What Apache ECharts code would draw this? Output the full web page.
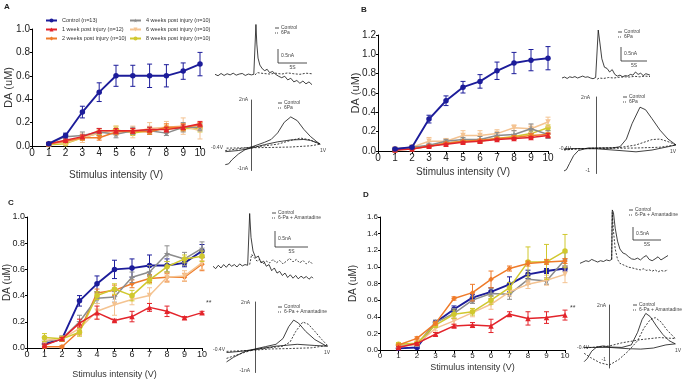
<!DOCTYPE html>
<html>
<head>
<meta charset="utf-8">
<script src="https://cdn.jsdelivr.net/npm/echarts@6/dist/echarts.min.js"></script>
<style>
  html, body { margin: 0; padding: 0; background: #fff; }
  #main { width: 686px; height: 384px; }
</style>
</head>
<body>
<div id="main"></div>
<script>
var chartDom = document.getElementById('main');
var myChart = echarts.init(chartDom);
var option;

// x categories and groups
const stimulus = [1, 2, 3, 4, 5, 6, 7, 8, 9, 10];
const groups = ['Control (n=13)', '1 week post injury (n=12)', '2 weeks post injury (n=10)',
  '4 weeks post injury (n=10)', '6 weeks post injury (n=10)', '8 weeks post injury (n=10)'];
const colors = ['#1c1c9a', '#e3242b', '#ef7b2a', '#8c8c8c', '#f4c391', '#d0c82e'];
const starIcon = 'path://M50,0 L61,35 L98,35 L68,57 L79,91 L50,70 L21,91 L32,57 L2,35 L39,35 Z';
const symbols = ['circle', 'triangle', 'diamond', starIcon, 'triangle', 'circle'];

// Panel A: mean / SEM, rows in group order
const meanA = [
  [0.02, 0.09, 0.29, 0.46, 0.60, 0.60, 0.60, 0.60, 0.64, 0.70],
  [0.02, 0.05, 0.08, 0.13, 0.13, 0.13, 0.14, 0.14, 0.16, 0.19],
  [0.02, 0.04, 0.07, 0.07, 0.12, 0.13, 0.12, 0.16, 0.16, 0.18],
  [0.02, 0.08, 0.09, 0.12, 0.10, 0.13, 0.13, 0.11, 0.16, 0.16],
  [0.02, 0.03, 0.07, 0.11, 0.13, 0.12, 0.15, 0.16, 0.17, 0.13],
  [0.01, 0.02, 0.07, 0.11, 0.14, 0.11, 0.13, 0.15, 0.15, 0.15]
];
const errA = [
  [0.01, 0.02, 0.05, 0.08, 0.09, 0.09, 0.10, 0.095, 0.07, 0.10],
  [0.01, 0.01, 0.015, 0.02, 0.02, 0.02, 0.02, 0.02, 0.02, 0.02],
  [0.01, 0.01, 0.02, 0.02, 0.02, 0.02, 0.02, 0.03, 0.03, 0.02],
  [0.01, 0.02, 0.03, 0.03, 0.03, 0.03, 0.03, 0.02, 0.04, 0.03],
  [0.01, 0.02, 0.04, 0.03, 0.04, 0.05, 0.05, 0.05, 0.07, 0.07],
  [0.01, 0.01, 0.02, 0.02, 0.03, 0.02, 0.02, 0.02, 0.02, 0.03]
];

// Panel B
const meanB = [
  [0.02, 0.04, 0.33, 0.52, 0.66, 0.72, 0.83, 0.91, 0.94, 0.96],
  [0.01, 0.02, 0.05, 0.07, 0.09, 0.10, 0.12, 0.13, 0.14, 0.16],
  [0.01, 0.02, 0.05, 0.08, 0.10, 0.11, 0.13, 0.14, 0.16, 0.17],
  [0.02, 0.04, 0.06, 0.10, 0.12, 0.12, 0.16, 0.17, 0.23, 0.17],
  [0.02, 0.04, 0.10, 0.10, 0.16, 0.16, 0.18, 0.24, 0.23, 0.30],
  [0.01, 0.03, 0.05, 0.08, 0.10, 0.10, 0.13, 0.15, 0.18, 0.24]
];
const errB = [
  [0.01, 0.01, 0.04, 0.05, 0.06, 0.07, 0.09, 0.11, 0.11, 0.12],
  [0.005, 0.005, 0.01, 0.01, 0.01, 0.01, 0.01, 0.01, 0.01, 0.02],
  [0.005, 0.01, 0.01, 0.01, 0.01, 0.01, 0.01, 0.02, 0.02, 0.02],
  [0.01, 0.01, 0.02, 0.02, 0.02, 0.03, 0.03, 0.04, 0.05, 0.04],
  [0.01, 0.02, 0.04, 0.03, 0.05, 0.05, 0.04, 0.03, 0.04, 0.05],
  [0.005, 0.01, 0.01, 0.01, 0.02, 0.02, 0.02, 0.02, 0.03, 0.03]
];

// Panel C
const meanC = [
  [0.03, 0.07, 0.36, 0.49, 0.60, 0.61, 0.63, 0.63, 0.65, 0.74],
  [0.02, 0.07, 0.19, 0.27, 0.21, 0.24, 0.31, 0.28, 0.23, 0.27],
  [0.01, 0.01, 0.13, 0.42, 0.44, 0.49, 0.53, 0.54, 0.54, 0.64],
  [0.05, 0.07, 0.20, 0.38, 0.39, 0.54, 0.58, 0.72, 0.68, 0.76],
  [0.06, 0.07, 0.15, 0.28, 0.33, 0.37, 0.40, 0.54, 0.55, 0.65],
  [0.08, 0.07, 0.12, 0.40, 0.45, 0.40, 0.52, 0.62, 0.68, 0.70]
];
const errC = [
  [0.01, 0.02, 0.04, 0.06, 0.07, 0.07, 0.08, 0.05, 0.03, 0.05],
  [0.01, 0.01, 0.03, 0.05, 0.01, 0.04, 0.03, 0.04, 0.01, 0.01],
  [0.01, 0.01, 0.03, 0.03, 0.04, 0.03, 0.03, 0.03, 0.03, 0.05],
  [0.02, 0.02, 0.05, 0.04, 0.04, 0.04, 0.05, 0.06, 0.05, 0.05],
  [0.02, 0.02, 0.03, 0.06, 0.08, 0.04, 0.06, 0.04, 0.04, 0.05],
  [0.03, 0.02, 0.03, 0.03, 0.04, 0.04, 0.03, 0.04, 0.03, 0.04]
];

// Panel D
const meanD = [
  [0.02, 0.03, 0.33, 0.49, 0.63, 0.70, 0.79, 0.91, 0.95, 0.98],
  [0.03, 0.08, 0.19, 0.29, 0.30, 0.29, 0.43, 0.38, 0.39, 0.42],
  [0.06, 0.14, 0.32, 0.62, 0.69, 0.85, 0.98, 1.04, 1.06, 1.07],
  [0.05, 0.07, 0.33, 0.44, 0.60, 0.68, 0.67, 0.85, 0.83, 1.09],
  [0.04, 0.07, 0.26, 0.35, 0.45, 0.55, 0.70, 0.79, 0.84, 0.91],
  [0.07, 0.08, 0.30, 0.43, 0.46, 0.60, 0.75, 1.06, 1.06, 1.19]
];
const errD = [
  [0.01, 0.01, 0.02, 0.04, 0.04, 0.05, 0.09, 0.05, 0.03, 0.03],
  [0.01, 0.01, 0.02, 0.02, 0.03, 0.08, 0.03, 0.08, 0.07, 0.06],
  [0.01, 0.02, 0.02, 0.02, 0.10, 0.10, 0.03, 0.03, 0.03, 0.03],
  [0.02, 0.02, 0.03, 0.06, 0.04, 0.06, 0.06, 0.06, 0.04, 0.08],
  [0.02, 0.02, 0.03, 0.04, 0.05, 0.06, 0.05, 0.05, 0.06, 0.10],
  [0.02, 0.02, 0.03, 0.05, 0.04, 0.05, 0.06, 0.18, 0.21, 0.20]
];

// amperometric traces [time s, current nA]
const ampA_ctrl = [[0,0.02],[0.5,-0.03],[1,0.05],[1.5,-0.02],[2,0.04],[2.5,0],[3,0.06],[3.5,-0.01],[4,0.03],[4.5,0.05],[5,-0.02],[5.5,0.03],[6,0],[6.4,0.02],[6.6,0],[6.75,1.8],[6.9,1.1],[7.1,0.6],[7.4,0.35],[7.8,0.22],[8.2,0.15],[8.6,0.2],[9,0.08],[9.5,0.12],[10,0.02],[10.5,-0.05],[11,-0.1],[11.5,-0.05],[12,-0.18],[12.5,-0.12],[13,-0.25],[13.5,-0.2],[14,-0.3],[14.5,-0.22],[15,-0.32],[15.5,-0.25],[16,-0.35]];
const ampA_6pa = [[6.6,0],[7,0.08],[8,0.05],[9,0.03],[10,0.06],[11,0.03],[12,0.07],[13,0.04],[14,0.02],[15,0.06],[16,0.04]];
const ampB_ctrl = [[0,0],[0.5,0.04],[1,-0.02],[1.5,0.05],[2,0.02],[2.5,0.06],[3,0],[3.5,0.04],[4,0.08],[4.5,0.03],[5,0.05],[5.5,0],[6,-0.03],[6.5,0.02],[6.8,-0.05],[7,2.0],[7.3,1.5],[7.7,0.8],[8.2,0.45],[8.7,0.4],[9.2,0.25],[9.7,0.35],[10.2,0.15],[10.7,0.08],[11.2,0.12],[11.7,0.05],[12.2,0.1],[12.7,0.08],[13.2,0.15],[13.7,0.12],[14.2,0.25],[14.7,0.15],[15.2,0.2],[15.7,0.1],[16.2,0.18],[17,0.12]];
const ampB_6pa = [[6.8,-0.05],[7.2,0],[8,-0.02],[9,0.02],[10,0],[11,0.03],[12,0.05],[13,0.04],[14,0.07],[15,0.05],[16,0.08],[17,0.06]];
const ampC_ctrl = [[0,0.05],[0.4,-0.02],[0.8,0.08],[1.2,0],[1.6,0.1],[2,0.02],[2.4,0.12],[2.8,0.05],[3.2,0.1],[3.6,0.03],[4,0.12],[4.4,0.06],[4.8,0.1],[5.2,0.08],[5.4,0.1],[5.5,1.6],[5.7,0.9],[6,0.5],[6.4,0.3],[6.8,0.35],[7.2,0.15],[7.6,0.2],[8,0.05],[8.4,0.1],[8.8,-0.08],[9.2,0],[9.6,-0.15],[10,-0.1],[10.4,-0.22],[10.8,-0.15],[11.2,-0.28],[11.6,-0.2],[12,-0.3],[12.4,-0.22],[12.8,-0.32],[13.2,-0.24],[13.6,-0.3],[14,-0.25],[14.4,-0.33],[14.8,-0.26],[15,-0.3]];
const ampC_ama = [[5.5,0.1],[5.8,0.4],[6.2,0.3],[6.6,0.2],[7,0.25],[7.5,0.12],[8,0.2],[8.5,0.15],[9,0.25],[9.5,0.15],[10,0.22],[10.5,0.12],[11,0.2],[11.5,0.28],[12,0.18],[12.5,0.25],[13,0.15],[13.5,0.22],[14,0.12],[14.5,0.2],[15,0.1]];
const ampD_ctrl = [[0,-0.05],[0.5,0],[1,0.05],[1.5,0.02],[2,0.1],[2.5,0.05],[3,0],[3.5,0.05],[4,0.02],[4.5,0.08],[5,0.05],[5.4,0.1],[5.5,2.0],[5.7,1.9],[6,1.3],[6.4,0.8],[6.8,0.5],[7.3,0.35],[7.8,0.3],[8.3,0.2],[8.8,0.12],[9.3,0.1],[9.8,0.15],[10.3,0.08],[10.8,0.18],[11.3,0.25],[11.8,0.1],[12.3,0.05],[12.8,0.12],[13.3,0.2],[13.8,0.08],[14.3,0.15],[15,0.25]];
const ampD_ama = [[5.4,0.1],[5.5,1.9],[5.7,1.2],[6,0.5],[6.4,0.1],[6.8,-0.05],[7.3,-0.1],[7.8,-0.15],[8.3,-0.2],[8.8,-0.22],[9.3,-0.25],[9.8,-0.28],[10.3,-0.3],[10.8,-0.26],[11.3,-0.32],[11.8,-0.3],[12.3,-0.35],[12.8,-0.3],[13.3,-0.38],[13.8,-0.32],[14.3,-0.36],[15,-0.3]];

// cyclic voltammograms [potential V, current nA]
const cvA_ctrl = [[-0.4,-0.75],[-0.35,-0.72],[-0.3,-0.55],[-0.2,-0.3],[-0.1,-0.12],[0,0],[0.1,0.1],[0.2,0.2],[0.3,0.32],[0.4,0.6],[0.5,1.05],[0.6,1.28],[0.7,1.12],[0.8,0.75],[0.9,0.45],[1,0.22],[1.05,0.12],[1,0.18],[0.9,0.28],[0.8,0.32],[0.6,0.3],[0.4,0.22],[0.2,0.1],[0,-0.05],[-0.2,-0.15],[-0.4,-0.2]];
const cvA_6pa = [[-0.4,-0.15],[-0.2,-0.08],[0,0],[0.2,0.05],[0.4,0.12],[0.6,0.28],[0.75,0.38],[0.9,0.3],[1.05,0.12],[0.9,0.05],[0.6,0],[0.3,-0.02],[0,-0.03],[-0.4,-0.05]];
const cvB_ctrl = [[-0.4,-0.9],[-0.37,-0.85],[-0.33,-0.6],[-0.28,-0.3],[-0.22,-0.1],[-0.1,0],[0,0],[0.2,0],[0.3,0.05],[0.38,0.35],[0.45,0.95],[0.55,1.6],[0.62,1.5],[0.7,1.15],[0.8,0.7],[0.9,0.35],[1,0.12],[0.9,0.05],[0.7,-0.08],[0.5,-0.15],[0.3,-0.1],[0,-0.03],[-0.3,-0.02],[-0.4,-0.05]];
const cvB_6pa = [[-0.4,-0.08],[-0.2,-0.03],[0,0],[0.3,0.02],[0.5,0.12],[0.7,0.33],[0.8,0.35],[0.9,0.25],[1,0.12],[0.8,0.03],[0.5,0],[0,-0.02],[-0.4,-0.04]];
const cvC_ctrl = [[-0.4,-0.55],[-0.3,-0.35],[-0.15,-0.12],[0,0],[0.15,0.1],[0.3,0.2],[0.4,0.45],[0.48,0.95],[0.55,1.23],[0.62,1.1],[0.72,0.75],[0.85,0.4],[1,0.15],[1.03,0.12],[0.85,0.15],[0.6,0.2],[0.3,0.12],[0,-0.02],[-0.2,-0.1],[-0.4,-0.15]];
const cvC_ama = [[-0.4,-0.4],[-0.3,-0.3],[-0.15,-0.15],[0,-0.02],[0.2,0.05],[0.4,0.12],[0.5,0.3],[0.58,0.75],[0.68,1.15],[0.76,1.05],[0.85,0.75],[0.95,0.4],[1.03,0.15],[0.8,0.05],[0.5,0.02],[0.2,0],[0,-0.05],[-0.4,-0.1]];
const cvD_ctrl = [[-0.4,-0.7],[-0.35,-0.55],[-0.28,-0.2],[-0.2,0],[-0.1,0.05],[0,0],[0.2,-0.02],[0.35,0.1],[0.45,0.7],[0.52,1.3],[0.58,1.6],[0.65,1.45],[0.75,1.0],[0.85,0.6],[0.95,0.3],[1.05,0.15],[0.9,0.1],[0.7,-0.05],[0.5,-0.1],[0.3,-0.08],[0,-0.02],[-0.4,-0.02]];
const cvD_ama = [[-0.4,-0.3],[-0.3,-0.5],[-0.15,-0.75],[0,-0.86],[0.15,-0.6],[0.3,-0.2],[0.45,0.3],[0.55,0.9],[0.65,1.3],[0.73,1.4],[0.82,1.2],[0.92,0.8],[1.05,0.4],[0.8,0.45],[0.5,0.35],[0.2,0.2],[0,0.05],[-0.4,-0.05]];

// ---------- layout ----------
const grids = [
  // main panels A B C D
  { left: 32, top: 29, width: 168, height: 117 },
  { left: 378, top: 35, width: 170, height: 116 },
  { left: 27, top: 217, width: 175, height: 131 },
  { left: 380, top: 217, width: 185, height: 133 },
  // amperometric insets
  { left: 215, top: 20, width: 97, height: 70 },
  { left: 562, top: 25, width: 88, height: 65 },
  { left: 213, top: 205, width: 100, height: 80 },
  { left: 580, top: 205, width: 88, height: 75 },
  // CV insets
  { left: 222, top: 100, width: 101.5, height: 70.5 },
  { left: 560, top: 97, width: 124, height: 76.5 },
  { left: 223, top: 302, width: 109.5, height: 70.5 },
  { left: 581, top: 305, width: 97.5, height: 63 }
].map(function (g) { return Object.assign({ outerBoundsMode: 'none' }, g); });

const xAxes = [];
const yAxes = [];

function mainAxes(ymax, fs, nameFs, xGap, yGap) {
  const i = xAxes.length;
  const black = { color: '#000', width: 1 };
  xAxes.push({
    gridIndex: i, type: 'value', min: 0, max: 10, interval: 1,
    name: 'Stimulus intensity (V)', nameLocation: 'middle', nameGap: xGap, nameMoveOverlap: false,
    nameTextStyle: { fontSize: nameFs, color: '#333', fontFamily: 'Liberation Sans' },
    axisLine: { onZero: false, lineStyle: black },
    axisTick: { length: 3, lineStyle: black },
    axisLabel: { fontSize: fs, color: '#222', margin: 2, fontFamily: 'Liberation Sans' },
    splitLine: { show: false }
  });
  yAxes.push({
    gridIndex: i, type: 'value', min: 0, max: ymax, interval: 0.2,
    name: 'DA (uM)', nameLocation: 'middle', nameGap: yGap, nameMoveOverlap: false,
    nameTextStyle: { fontSize: nameFs + 1, color: '#333', fontFamily: 'Liberation Sans' },
    axisLine: { show: true, onZero: false, lineStyle: black },
    axisTick: { show: true, length: 2, lineStyle: black },
    axisLabel: { fontSize: fs, color: '#222', margin: 2, fontFamily: 'Liberation Sans',
      formatter: function (v) { return v.toFixed(1); } },
    splitLine: { show: false }
  });
}

function ampAxes(tmax, ymin, ymax) {
  const i = xAxes.length;
  xAxes.push({ gridIndex: i, type: 'value', min: 0, max: tmax, show: false });
  yAxes.push({ gridIndex: i, type: 'value', min: ymin, max: ymax, show: false });
}

function cvAxes() {
  const i = xAxes.length;
  xAxes.push({
    gridIndex: i, type: 'value', min: -0.45, max: 1.1,
    axisLine: { show: false, onZero: false }, axisTick: { show: false },
    axisLabel: { show: false }, splitLine: { show: false }
  });
  yAxes.push({
    gridIndex: i, type: 'value', min: -1, max: 2,
    axisLine: { show: true, onZero: true, lineStyle: { color: '#555', width: 1 } },
    axisTick: { show: false }, axisLabel: { show: false }, splitLine: { show: false }
  });
}

mainAxes(1.0, 10, 10, 24, 18);
mainAxes(1.2, 10, 10, 16, 17);
mainAxes(1.0, 9, 9, 22, 15);
mainAxes(1.6, 8, 9, 13, 22);
ampAxes(16, -0.54, 1.96);
ampAxes(17, -0.5, 2.21);
ampAxes(15, -0.5, 1.85);
ampAxes(15, -0.69, 2.19);
cvAxes(); cvAxes(); cvAxes(); cvAxes();

// ---------- series ----------
function errorBar(color) {
  return function (params, api) {
    const x = api.value(0), y = api.value(1), e = api.value(2);
    const hi = api.coord([x, y + e]);
    const lo = api.coord([x, y - e]);
    const w = 2.5;
    const st = { stroke: color, lineWidth: 1 };
    return {
      type: 'group',
      children: [
        { type: 'line', shape: { x1: hi[0], y1: hi[1], x2: lo[0], y2: lo[1] }, style: st },
        { type: 'line', shape: { x1: hi[0] - w, y1: hi[1], x2: hi[0] + w, y2: hi[1] }, style: st },
        { type: 'line', shape: { x1: lo[0] - w, y1: lo[1], x2: lo[0] + w, y2: lo[1] }, style: st }
      ]
    };
  };
}

const series = [];

function panelSeries(idx, means, errs, order) {
  order.forEach(function (g, k) {
    const c = colors[g];
    series.push({
      type: 'custom', xAxisIndex: idx, yAxisIndex: idx, silent: true,
      data: stimulus.map(function (x, j) { return [x, means[g][j], errs[g][j]]; }),
      renderItem: errorBar(c), z: 2 + k
    });
    series.push({
      name: groups[g], type: 'line', xAxisIndex: idx, yAxisIndex: idx,
      data: stimulus.map(function (x, j) { return [x, means[g][j]]; }),
      symbol: symbols[g], symbolSize: g === 3 ? 6.5 : 5.5, symbolRotate: g === 4 ? 180 : 0,
      lineStyle: { width: g === 0 ? 1.9 : 1.5, color: c },
      itemStyle: { color: c },
      z: 2 + k
    });
  });
}

panelSeries(0, meanA, errA, [5, 4, 3, 2, 1, 0]);
panelSeries(1, meanB, errB, [5, 4, 3, 2, 1, 0]);
panelSeries(2, meanC, errC, [0, 2, 3, 4, 5, 1]);
panelSeries(3, meanD, errD, [0, 3, 4, 5, 2, 1]);

function trace(idx, data, dashed) {
  series.push({
    type: 'line', xAxisIndex: idx, yAxisIndex: idx, data: data, silent: true,
    showSymbol: false, symbol: 'none',
    lineStyle: { color: '#111', width: 0.8, type: dashed ? [2, 1.5] : 'solid' }
  });
}

trace(4, ampA_ctrl, false); trace(4, ampA_6pa, true);
trace(5, ampB_ctrl, false); trace(5, ampB_6pa, true);
trace(6, ampC_ctrl, false); trace(6, ampC_ama, true);
trace(7, ampD_ctrl, false); trace(7, ampD_ama, true);
trace(8, cvA_ctrl, false); trace(8, cvA_6pa, true);
trace(9, cvB_ctrl, false); trace(9, cvB_6pa, true);
trace(10, cvC_ctrl, false); trace(10, cvC_ama, true);
trace(11, cvD_ctrl, false); trace(11, cvD_ama, true);

// ---------- annotations ----------
const graphic = [];
function label(x, y, text, fs, extra) {
  graphic.push({ type: 'text', x: x, y: y, silent: true,
    style: Object.assign({ text: text, fontSize: fs, fill: '#222', fontFamily: 'Liberation Sans',
      verticalAlign: 'middle' }, extra || {}) });
}
function insetLegend(x, y, second) {
  graphic.push({ type: 'line', silent: true, shape: { x1: x, y1: y, x2: x + 4, y2: y },
    style: { stroke: '#222', lineWidth: 0.8 } });
  graphic.push({ type: 'line', silent: true, shape: { x1: x, y1: y + 5, x2: x + 4, y2: y + 5 },
    style: { stroke: '#222', lineWidth: 0.8, lineDash: [1, 1] } });
  label(x + 6, y, 'Control', 5, { fill: '#444' });
  label(x + 6, y + 5, second, 5, { fill: '#444' });
}
function scaleBar(x, y1, y2, x2, nA, sec) {
  graphic.push({ type: 'polyline', silent: true, shape: { points: [[x, y1], [x, y2], [x2, y2]] },
    style: { stroke: '#222', lineWidth: 0.8, fill: null } });
  label(x + 3, (y1 + y2) / 2, nA, 5, { fill: '#444' });
  label((x + x2) / 2, y2 + 5, sec, 5, { fill: '#444', align: 'center' });
}
function cvLabels(axisX, top, bottom, base, left, right, lowText) {
  const st = { fill: '#444', align: 'right' };
  label(axisX - 2, top, '2nA', 5, st);
  label(axisX - 2, bottom, lowText, 5, st);
  label(left, base + 1, '-0.4V', 5, { fill: '#444', align: 'center' });
  label(right, base + 4, '1V', 5, { fill: '#444', align: 'center' });
}

label(4, 7, 'A', 8, { fontWeight: 'bold' });
label(361, 10, 'B', 8, { fontWeight: 'bold' });
label(8, 203, 'C', 8, { fontWeight: 'bold' });
label(363, 195, 'D', 8, { fontWeight: 'bold' });
label(206, 303, '**', 7, { fill: '#444' });
label(570, 308, '**', 7, { fill: '#444' });

insetLegend(275, 28, '6Pa');
insetLegend(618, 32, '6Pa');
insetLegend(272, 213, '6-Pa + Amantadine');
insetLegend(629, 210, '6-Pa + Amantadine');
insetLegend(278, 103, '6Pa');
insetLegend(623, 97, '6Pa');
insetLegend(278, 307, '6-Pa + Amantadine');
insetLegend(633, 305, '6-Pa + Amantadine');

scaleBar(278, 49, 63, 307, '0.5nA', '5S');
scaleBar(621, 47, 61, 647, '0.5nA', '5S');
scaleBar(275, 231, 247, 308, '0.5nA', '5S');
scaleBar(633, 227, 240, 661, '0.5nA', '5S');

cvLabels(250, 100, 169, 147, 217, 323, '-1nA');
cvLabels(592, 98, 171, 148, 565, 673, '-1');
cvLabels(252, 303, 371, 349, 219, 327, '-1nA');
cvLabels(608, 306, 360, 347, 583, 678, '-1');

const legendBase = {
  orient: 'vertical', top: 17.5, padding: 0, itemWidth: 11, itemHeight: 5, itemGap: 3,
  textStyle: { fontSize: 5.5, color: '#333', fontFamily: 'Liberation Sans' }
};

option = {
  animation: false,
  backgroundColor: '#fff',
  grid: grids,
  xAxis: xAxes,
  yAxis: yAxes,
  legend: [
    Object.assign({ left: 45, data: groups.slice(0, 3) }, legendBase),
    Object.assign({ left: 129, data: groups.slice(3) }, legendBase)
  ],
  graphic: graphic,
  series: series
};

option && myChart.setOption(option);
</script>
</body>
</html>
